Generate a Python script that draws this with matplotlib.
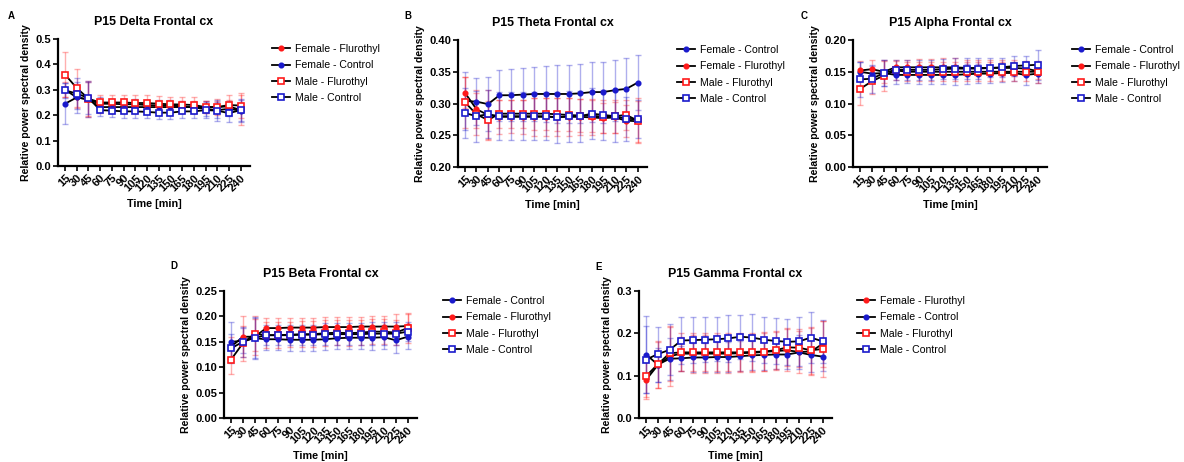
import matplotlib
matplotlib.use('Agg')
import matplotlib.pyplot as plt

plt.rcParams['font.family'] = ['Liberation Sans', 'DejaVu Sans']

times = [15, 30, 45, 60, 75, 90, 105, 120, 135, 150, 165, 180, 195, 210, 225, 240]

# ---- Delta ----
delta_f_flu = [0.300, 0.270, 0.262, 0.232, 0.232, 0.232, 0.232, 0.232, 0.232, 0.232, 0.232, 0.232, 0.232, 0.232, 0.235, 0.220]
delta_f_flu_err = [0.03, 0.04, 0.07, 0.025, 0.025, 0.025, 0.025, 0.025, 0.025, 0.025, 0.025, 0.025, 0.025, 0.025, 0.025, 0.06]
delta_f_con = [0.245, 0.270, 0.262, 0.245, 0.245, 0.243, 0.243, 0.240, 0.238, 0.238, 0.235, 0.230, 0.225, 0.220, 0.225, 0.218]
delta_f_con_err = [0.08, 0.06, 0.07, 0.025, 0.02, 0.02, 0.02, 0.02, 0.02, 0.02, 0.02, 0.02, 0.03, 0.03, 0.03, 0.04]
delta_m_flu = [0.360, 0.307, 0.265, 0.250, 0.250, 0.250, 0.248, 0.248, 0.245, 0.243, 0.242, 0.240, 0.232, 0.232, 0.240, 0.238]
delta_m_flu_err = [0.087, 0.075, 0.07, 0.03, 0.03, 0.03, 0.03, 0.03, 0.03, 0.03, 0.03, 0.03, 0.025, 0.03, 0.04, 0.05]
delta_m_con = [0.298, 0.285, 0.268, 0.220, 0.218, 0.215, 0.215, 0.213, 0.210, 0.210, 0.215, 0.215, 0.220, 0.218, 0.208, 0.220]
delta_m_con_err = [0.03, 0.06, 0.065, 0.025, 0.025, 0.025, 0.025, 0.025, 0.025, 0.025, 0.025, 0.025, 0.03, 0.04, 0.035, 0.045]

# ---- Theta ----
theta_f_con = [0.304, 0.303, 0.299, 0.313, 0.313, 0.314, 0.315, 0.315, 0.315, 0.315, 0.316, 0.318, 0.318, 0.321, 0.323, 0.333]
theta_f_con_err = [0.046, 0.037, 0.042, 0.040, 0.041, 0.042, 0.043, 0.044, 0.045, 0.045, 0.046, 0.047, 0.048, 0.048, 0.048, 0.043]
theta_f_flu = [0.317, 0.291, 0.282, 0.279, 0.279, 0.279, 0.279, 0.279, 0.279, 0.279, 0.279, 0.278, 0.277, 0.278, 0.273, 0.272]
theta_f_flu_err = [0.024, 0.03, 0.04, 0.027, 0.026, 0.027, 0.03, 0.03, 0.03, 0.03, 0.028, 0.028, 0.024, 0.025, 0.025, 0.032]
theta_m_flu = [0.302, 0.283, 0.274, 0.284, 0.284, 0.284, 0.284, 0.284, 0.283, 0.282, 0.281, 0.281, 0.279, 0.280, 0.282, 0.273]
theta_m_flu_err = [0.04, 0.033, 0.03, 0.022, 0.022, 0.022, 0.025, 0.025, 0.026, 0.026, 0.026, 0.026, 0.026, 0.026, 0.024, 0.035]
theta_m_con = [0.285, 0.280, 0.283, 0.280, 0.280, 0.280, 0.280, 0.280, 0.278, 0.280, 0.280, 0.284, 0.282, 0.280, 0.276, 0.275]
theta_m_con_err = [0.04, 0.04, 0.038, 0.038, 0.038, 0.038, 0.038, 0.038, 0.04, 0.04, 0.04, 0.04, 0.04, 0.04, 0.035, 0.03]

# ---- Alpha ----
alpha_f_con = [0.150, 0.147, 0.148, 0.145, 0.145, 0.145, 0.145, 0.145, 0.145, 0.146, 0.147, 0.147, 0.148, 0.148, 0.145, 0.147]
alpha_f_con_err = [0.015, 0.012, 0.02, 0.014, 0.013, 0.015, 0.015, 0.015, 0.016, 0.016, 0.015, 0.014, 0.014, 0.013, 0.016, 0.014]
alpha_f_flu = [0.152, 0.154, 0.150, 0.157, 0.157, 0.157, 0.157, 0.157, 0.157, 0.156, 0.156, 0.156, 0.156, 0.156, 0.155, 0.151]
alpha_f_flu_err = [0.015, 0.014, 0.017, 0.012, 0.012, 0.013, 0.013, 0.014, 0.014, 0.013, 0.012, 0.012, 0.012, 0.012, 0.012, 0.013]
alpha_m_flu = [0.123, 0.135, 0.144, 0.152, 0.150, 0.150, 0.150, 0.150, 0.150, 0.150, 0.150, 0.150, 0.150, 0.150, 0.150, 0.150]
alpha_m_flu_err = [0.026, 0.02, 0.025, 0.015, 0.015, 0.015, 0.015, 0.015, 0.015, 0.015, 0.015, 0.015, 0.015, 0.015, 0.015, 0.017]
alpha_m_con = [0.138, 0.139, 0.148, 0.153, 0.153, 0.153, 0.153, 0.154, 0.155, 0.155, 0.155, 0.156, 0.157, 0.159, 0.160, 0.161]
alpha_m_con_err = [0.028, 0.022, 0.02, 0.016, 0.016, 0.016, 0.016, 0.016, 0.016, 0.016, 0.016, 0.015, 0.015, 0.016, 0.015, 0.024]

# ---- Beta ----
beta_f_con = [0.150, 0.152, 0.157, 0.155, 0.155, 0.154, 0.154, 0.154, 0.155, 0.157, 0.158, 0.158, 0.158, 0.159, 0.153, 0.160]
beta_f_con_err = [0.038, 0.025, 0.04, 0.022, 0.022, 0.022, 0.022, 0.022, 0.022, 0.022, 0.022, 0.022, 0.024, 0.024, 0.026, 0.025]
beta_f_flu = [0.140, 0.160, 0.160, 0.177, 0.177, 0.178, 0.178, 0.178, 0.179, 0.179, 0.179, 0.180, 0.180, 0.180, 0.180, 0.181]
beta_f_flu_err = [0.02, 0.04, 0.035, 0.019, 0.019, 0.019, 0.019, 0.019, 0.02, 0.019, 0.019, 0.019, 0.021, 0.02, 0.025, 0.024]
beta_m_flu = [0.115, 0.147, 0.166, 0.163, 0.163, 0.164, 0.165, 0.165, 0.167, 0.168, 0.167, 0.168, 0.170, 0.170, 0.168, 0.177]
beta_m_flu_err = [0.028, 0.035, 0.035, 0.025, 0.025, 0.025, 0.025, 0.025, 0.025, 0.025, 0.025, 0.025, 0.025, 0.025, 0.025, 0.03]
beta_m_con = [0.137, 0.150, 0.158, 0.163, 0.163, 0.163, 0.164, 0.164, 0.165, 0.165, 0.165, 0.165, 0.166, 0.166, 0.166, 0.170]
beta_m_con_err = [0.028, 0.03, 0.04, 0.02, 0.02, 0.02, 0.02, 0.02, 0.022, 0.022, 0.022, 0.022, 0.022, 0.022, 0.022, 0.018]

# ---- Gamma ----
gamma_f_flu = [0.090, 0.125, 0.146, 0.152, 0.152, 0.152, 0.152, 0.152, 0.153, 0.154, 0.156, 0.158, 0.160, 0.156, 0.157, 0.175]
gamma_f_flu_err = [0.045, 0.055, 0.07, 0.04, 0.045, 0.045, 0.045, 0.045, 0.045, 0.045, 0.045, 0.045, 0.05, 0.05, 0.055, 0.055]
gamma_f_con = [0.150, 0.126, 0.140, 0.141, 0.143, 0.143, 0.144, 0.144, 0.146, 0.148, 0.149, 0.150, 0.150, 0.155, 0.149, 0.145]
gamma_f_con_err = [0.09, 0.04, 0.05, 0.03, 0.035, 0.035, 0.035, 0.035, 0.035, 0.035, 0.035, 0.035, 0.035, 0.04, 0.04, 0.035]
gamma_m_flu = [0.099, 0.127, 0.153, 0.155, 0.155, 0.155, 0.155, 0.155, 0.155, 0.156, 0.157, 0.160, 0.167, 0.166, 0.160, 0.163]
gamma_m_flu_err = [0.05, 0.055, 0.065, 0.045, 0.045, 0.045, 0.045, 0.045, 0.045, 0.045, 0.045, 0.045, 0.045, 0.045, 0.055, 0.065]
gamma_m_con = [0.138, 0.151, 0.161, 0.183, 0.184, 0.185, 0.186, 0.188, 0.192, 0.190, 0.185, 0.182, 0.180, 0.181, 0.190, 0.181]
gamma_m_con_err = [0.08, 0.065, 0.06, 0.055, 0.055, 0.053, 0.052, 0.055, 0.052, 0.055, 0.054, 0.055, 0.055, 0.058, 0.06, 0.05]

RED = '#ff1a1a'
BLUE = '#1a1acc'

STYLES = {
    'Female - Flurothyl': dict(color=RED, marker='o', ms=3.2, mfc=RED),
    'Female - Control': dict(color=BLUE, marker='o', ms=3.2, mfc=BLUE),
    'Male - Flurothyl': dict(color=RED, marker='s', ms=5, mfc='white'),
    'Male - Control': dict(color=BLUE, marker='s', ms=5, mfc='white'),
}

W, H = 1184, 462


def make_ax(fig, left, right, top, bottom):
    return fig.add_axes([left / W, 1 - bottom / H, (right - left) / W, (bottom - top) / H])


def plot_panel(fig, box, title, letter, letter_xy, legend_dx, series, ylim, yticks, yfmt):
    left, right, top, bottom = box
    ax = make_ax(fig, left, right, top, bottom)
    x = list(range(len(times)))
    handles = []
    for name, vals, errs in series:
        st = STYLES[name]
        ax.errorbar(x, vals, yerr=errs, fmt='none', ecolor=st['color'], alpha=0.35,
                    elinewidth=1.0, capsize=2, capthick=1.0, zorder=2)
        h, = ax.plot(x, vals, color='black', lw=1.3, marker=st['marker'], ms=st['ms'],
                     mfc=st['mfc'], mec=st['color'], mew=1.2, zorder=3, label=name)
        handles.append(h)
    ax.set_xlim(-0.6, len(times) - 0.2)
    ax.set_ylim(*ylim)
    ax.set_yticks(yticks)
    ax.set_yticklabels([yfmt.format(v) for v in yticks])
    ax.set_xticks(x)
    ax.set_xticklabels([str(t) for t in times], rotation=45, ha='right', rotation_mode='anchor')
    for s in ['top', 'right']:
        ax.spines[s].set_visible(False)
    for s in ['left', 'bottom']:
        ax.spines[s].set_linewidth(1.6)
    ax.tick_params(width=1.2, length=3.5, labelsize=8, pad=1.5)
    for lbl in ax.get_xticklabels() + ax.get_yticklabels():
        lbl.set_fontweight('bold')
    ax.set_xlabel('Time [min]', fontsize=7.8, fontweight='bold', labelpad=4)
    ax.set_ylabel('Relative power spectral density', fontsize=7.6, fontweight='bold', labelpad=3)
    ax.set_title(title, fontsize=8.9, fontweight='bold', pad=10)
    ax.legend(handles=handles, loc='upper left',
              bbox_to_anchor=((right + legend_dx) / W, 1 - (top + 5) / H),
              bbox_transform=fig.transFigure, frameon=False, borderpad=0,
              fontsize=7.6, handlelength=1.7, handletextpad=0.5,
              labelspacing=0.6, borderaxespad=0)
    fig.text(letter_xy[0] / W, 1 - letter_xy[1] / H, letter, fontsize=7, fontweight='bold',
             va='top', ha='left')
    return ax


fig = plt.figure(figsize=(W / 100, H / 100), dpi=100)

plot_panel(fig, (58, 250, 39, 166), 'P15 Delta Frontal cx', 'A', (8, 11), 22, [
    ('Female - Flurothyl', delta_f_flu, delta_f_flu_err),
    ('Female - Control', delta_f_con, delta_f_con_err),
    ('Male - Flurothyl', delta_m_flu, delta_m_flu_err),
    ('Male - Control', delta_m_con, delta_m_con_err),
], (0, 0.5), [0, 0.1, 0.2, 0.3, 0.4, 0.5], '{:.1f}')

plot_panel(fig, (458, 647, 40, 167), 'P15 Theta Frontal cx', 'B', (404, 11), 30, [
    ('Female - Control', theta_f_con, theta_f_con_err),
    ('Female - Flurothyl', theta_f_flu, theta_f_flu_err),
    ('Male - Flurothyl', theta_m_flu, theta_m_flu_err),
    ('Male - Control', theta_m_con, theta_m_con_err),
], (0.2, 0.4), [0.20, 0.25, 0.30, 0.35, 0.40], '{:.2f}')

plot_panel(fig, (853, 1047, 40, 167), 'P15 Alpha Frontal cx', 'C', (801, 11), 25, [
    ('Female - Control', alpha_f_con, alpha_f_con_err),
    ('Female - Flurothyl', alpha_f_flu, alpha_f_flu_err),
    ('Male - Flurothyl', alpha_m_flu, alpha_m_flu_err),
    ('Male - Control', alpha_m_con, alpha_m_con_err),
], (0, 0.2), [0.00, 0.05, 0.10, 0.15, 0.20], '{:.2f}')

plot_panel(fig, (224, 417, 291, 418), 'P15 Beta Frontal cx', 'D', (170, 261), 26, [
    ('Female - Control', beta_f_con, beta_f_con_err),
    ('Female - Flurothyl', beta_f_flu, beta_f_flu_err),
    ('Male - Flurothyl', beta_m_flu, beta_m_flu_err),
    ('Male - Control', beta_m_con, beta_m_con_err),
], (0, 0.25), [0.00, 0.05, 0.10, 0.15, 0.20, 0.25], '{:.2f}')

plot_panel(fig, (639, 832, 291, 418), 'P15 Gamma Frontal cx', 'E', (595, 262), 25, [
    ('Female - Flurothyl', gamma_f_flu, gamma_f_flu_err),
    ('Female - Control', gamma_f_con, gamma_f_con_err),
    ('Male - Flurothyl', gamma_m_flu, gamma_m_flu_err),
    ('Male - Control', gamma_m_con, gamma_m_con_err),
], (0, 0.3), [0.0, 0.1, 0.2, 0.3], '{:.1f}')

fig.savefig('out.png', dpi=100)
